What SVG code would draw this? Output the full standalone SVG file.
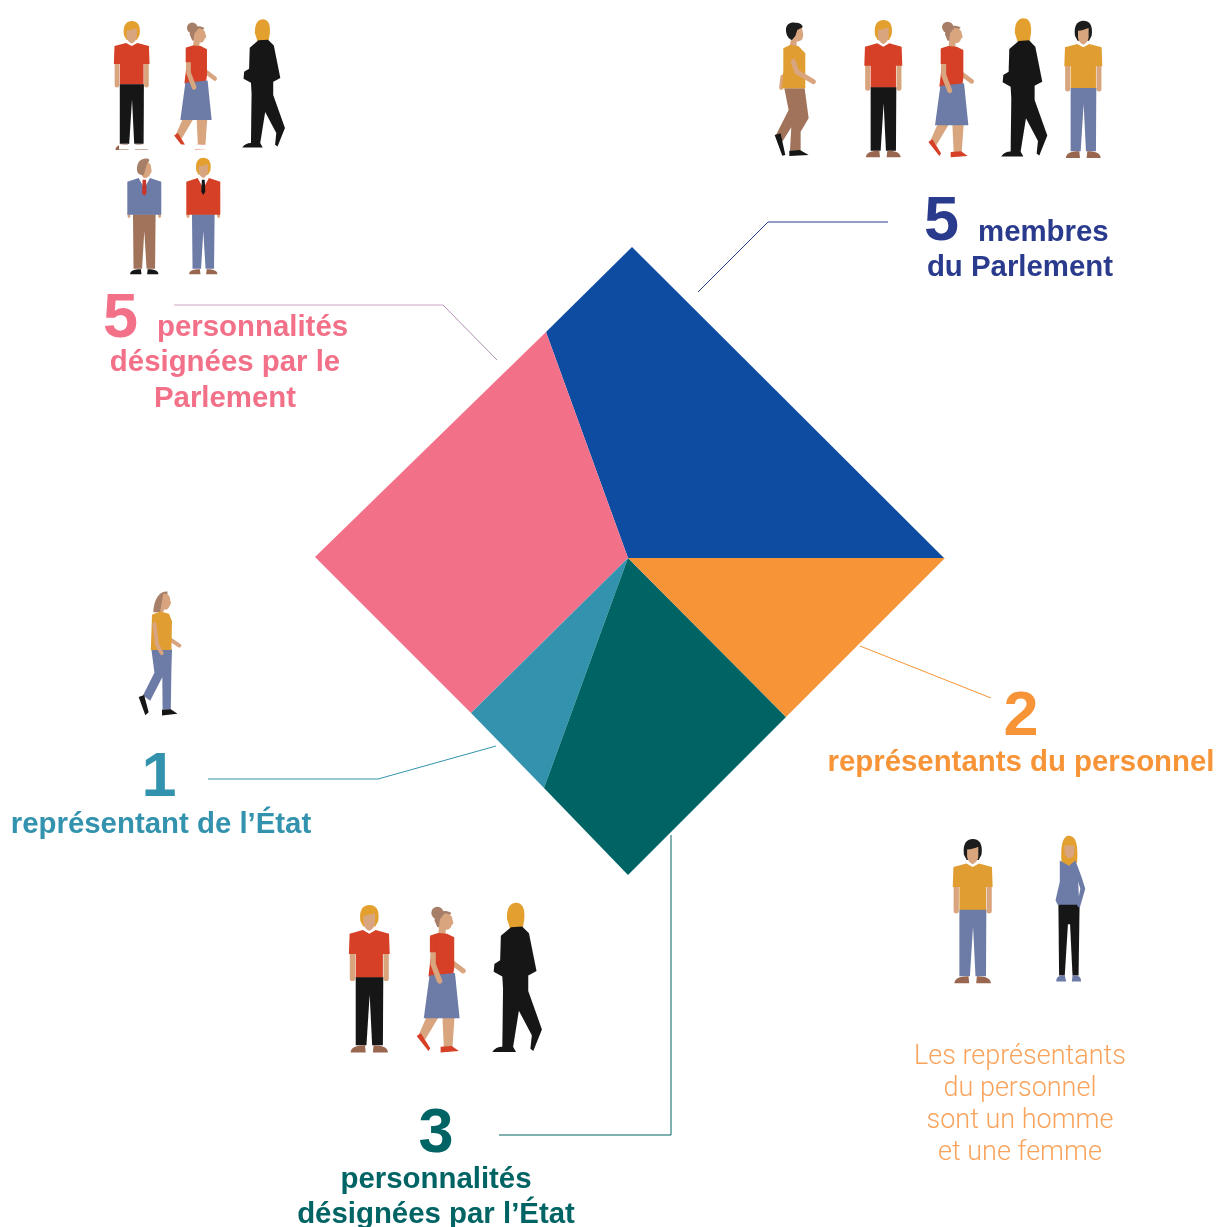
<svg xmlns="http://www.w3.org/2000/svg" width="1218" height="1227" viewBox="0 0 1218 1227">
<style>
text{font-family:"Liberation Sans",Arial,sans-serif;font-weight:700;font-size:29.4px;text-anchor:middle}
.n{font-size:63px}
.s{text-anchor:start}
.l{font-family:Roboto,"Liberation Sans",sans-serif;font-weight:300;font-size:27px;fill:#f9a35c}
.pink{fill:#f37089}.blue{fill:#2a3a8c}.or{fill:#f79437}.lt{fill:#3393ae}.dk{fill:#006465}
.c{fill:none;stroke-width:1}
.skin{fill:#d8a57f}.armskin{fill:none;stroke:#d8a57f;stroke-linecap:round;stroke-linejoin:round}
.hair{fill:var(--hair)}.top{fill:var(--top)}.leg{fill:var(--leg)}.shoe{fill:var(--shoe)}
.mr{--hair:#e3a02f;--top:#d53f27;--leg:#151515;--shoe:#99664f}
.my{--hair:#1a1a1a;--top:#e09e33;--leg:#6d7ba6;--shoe:#99664f}
.s1{--hair:#a77f68;--top:#6d7ba6;--leg:#a0735a;--shoe:#151515}
.s2{--hair:#e3a02f;--top:#d53f27;--leg:#6d7ba6;--shoe:#99664f}
.ppl{filter:url(#soft)}
</style>
<defs>
<filter id="soft" x="-5%" y="-5%" width="110%" height="110%"><feGaussianBlur stdDeviation="0.45"/></filter>
<g id="head-front">
<path class="hair" d="M-25 45C-30 10-14 0 0 0C17 0 30 12 25 45L17 60L-17 60Z"/>
<path class="skin" d="M-16 30C-5 30 8 25 16 22L16 50C15 62 6 70 0 72C-6 70-15 62-16 50Z"/>
</g>
<g id="man-front">
<use href="#head-front"/>
<path class="armskin" stroke-width="15" d="M-47 130V205M47 130V205"/>
<path class="top" d="M-55 80L-18 70L0 80L18 70L55 80L57 137L38 137L38 203L-38 203L-38 137L-57 137Z"/>
<path class="leg" d="M-38 202L39 202L38 392L8 392L1 250L-8 392L-38 392Z"/>
<path class="shoe" d="M-52 412C-52 400-40 392-12 392L-10 412ZM52 412C52 400 40 392 12 392L10 412Z"/>
</g>
<g id="man-suit">
<path class="armskin" stroke-width="10" d="M-54 195V208M54 195V208"/>
<path class="leg" d="M-40 200L40 200L38 392L8 392L0 260L-8 392L-38 392Z"/>
<path class="shoe" d="M-50 412C-50 400-38 394-12 394L-10 412ZM50 412C50 400 38 394 12 394L10 412Z"/>
<path fill="#fff" d="M-20 70L20 70L8 110L-8 110Z"/>
<path class="top" d="M-60 85L-20 72L0 108L20 72L60 85L60 202L-60 202Z"/>
</g>
<g id="woman-walk">
<circle cx="-12" cy="22" r="17" fill="#a77f68"/>
<path class="armskin" stroke-width="14" d="M28 160L60 184"/>
<path fill="#a77f68" d="M-20 44C-20 20 5 10 27 22L12 40L6 62L-12 62Z"/>
<path class="skin" d="M8 24C20 24 30 30 30 40L33 52L28 56C26 65 18 72 12 68L10 84L-10 84L-5 40Z"/>
<path class="skin" d="M-42 312L-8 312L-46 376L-64 362ZM2 312L36 312L30 398L6 398Z"/>
<path class="top" d="M-32 85L-10 78L15 80L35 90L35 175L32 195L-37 200L-30 140Z"/>
<path fill="#6d7ba6" d="M-34 197L37 190L50 316L-50 316Z"/>
<path class="armskin" stroke-width="15" d="M-24 105L-24 165L-6 212"/>
<path class="top" d="M-33 88L-14 88L-15 132L-33 132Z"/>
<path fill="#d53f27" d="M-70 366L-58 358L-32 400L-37 408ZM-3 396L28 394L48 408L-3 412Z"/>
</g>
<g id="walker-black">
<path fill="#e3a02f" d="M-25 45C-27 10-12 0 0 0C15 0 26 12 23 45L19 70L-17 70Z"/>
<path fill="#161616" d="M-14 68L17 66L36 85L57 190L42 198L34 202L34 245L72 352L48 412L40 406L44 368L8 300L-8 400L0 415L-66 415C-60 405-50 400-38 400L-36 240L-38 205L-62 192L-60 170L-44 160L-42 92Z"/>
</g>
<g id="man-walk">
<path class="armskin" stroke-width="13" d="M-32 170L-36 203"/>
<path class="skin" d="M0 28L25 18L30 45L27 58C20 65 15 65 10 65L10 82L-12 82Z"/>
<path fill="#1a1a1a" d="M-22 30C-22 12-8 6 5 8C20 8 28 14 28 22L12 30L6 48L-4 60C-14 58-22 45-22 30Z"/>
<path fill="#a0735a" d="M-27 205L34 205L46 295L22 335L22 392L-10 392L-6 322L-32 364L-52 345L-14 270Z"/>
<path fill="#151515" d="M-56 345L-38 340L-24 405L-33 407ZM-12 392L20 390L46 405L-12 408Z"/>
<path fill="#e09e33" d="M-30 85L-10 75L15 78L36 100L36 205L-34 205L-30 150Z"/>
<path class="armskin" stroke-width="15" d="M0 125L10 155L60 185"/>
</g>
<g id="woman-front">
<path fill="#e3a02f" d="M-21 75C-25 20-15 0 0 0C20 0 26 25 23 75L8 85L-10 85Z"/>
<path class="skin" d="M-13 28L15 28L15 50C10 68-8 68-12 50Z"/>
<path fill="#151515" d="M-30 190L30 190L27 395L10 395L3 250L-3 250L-12 395L-28 395Z"/>
<path fill="#6d7ba6" d="M-26 70L0 85L18 70L35 115L46 150L30 205L23 198L32 150L26 130L29 195L-32 195L-38 182L-26 130Z"/>
<path fill="#6d7ba6" d="M-36 412C-36 400-30 394-12 394L-8 412ZM34 412C34 400 30 394 10 394L8 412Z"/>
</g>
<g id="woman-walk-long">
<path fill="#a77f68" d="M-28 70C-24 20-5 0 19 2L19 20L7 30L2 70Z"/>
<path class="skin" d="M5 10C22 5 29 20 28 30L31 40L26 50C21 60 12 65 8 60L4 74L-6 74Z"/>
<path class="armskin" stroke-width="13" d="M28 160L58 180"/>
<path fill="#6d7ba6" d="M-34 192L34 192L32 260L30 392L3 392L2 285L-38 362L-62 345L-24 270Z"/>
<path fill="#151515" d="M-76 350L-58 343L-43 400L-54 410ZM1 392L30 390L52 405L1 411Z"/>
<path fill="#e09e33" d="M-32 78L-5 68L24 75L34 100L32 195L-36 195Z"/>
<path class="armskin" stroke-width="13" d="M-24 110L-16 175L0 205"/>
</g>
</defs>

<g id="connectors">
<path class="c" stroke="#cfa6c4" d="M174 305H443"/>
<path class="c" stroke="#b48fb8" d="M443 305L497 360"/>
<path class="c" stroke="#2a3a8c" d="M888 222H768L698 292"/>
<path class="c" stroke="#f79437" d="M860 646L991 698"/>
<path class="c" stroke="#3393ae" d="M208 779H378L496 746"/>
<path class="c" stroke="#006465" d="M671 835V1135H499"/>
</g>

<g id="diamond">
<polygon id="seg-blue" fill="#0d4ca0" points="546,332 632,247 944,558 628,558"/>
<polygon id="seg-pink" fill="#f37089" points="546,332 628,558 471,713 315,557"/>
<polygon id="seg-lightteal" fill="#3393ae" points="628,558 471,713 544,788"/>
<polygon id="seg-darkteal" fill="#006465" points="628,558 544,788 628,875 786,717"/>
<polygon id="seg-orange" fill="#f79437" points="628,558 945,558 786,717"/>
</g>

<g id="people-top-left" class="ppl">
<use href="#man-front" class="mr" transform="translate(131.7 21) scale(.313)"/>
<use href="#woman-walk" class="mr" transform="translate(196 21) scale(.313)"/>
<use href="#walker-black" transform="translate(262.7 19.3) scale(.309)"/>
<rect x="119" y="144.5" width="96" height="5" fill="#fff"/>
<g class="s1" transform="translate(144.3 157.7) scale(.283)">
<use href="#man-suit"/>
<path fill="#c8352a" d="M-6 78H6L8 125L0 135L-8 125Z"/>
<path class="skin" d="M-15 15C5 5 25 18 24 35L26 50L22 56C16 70 5 75-4 70L-10 60Z"/>
<path class="hair" d="M-26 40C-26 12-8 0 10 3C20 5 20 12 10 20L-2 62C-18 62-26 55-26 40Z"/>
</g>
<g class="s2" transform="translate(203.3 157.7) scale(.283)">
<use href="#man-suit"/>
<path fill="#151515" d="M-5 78H5L7 120L0 132L-7 120Z"/>
<use href="#head-front"/>
</g>
</g>

<g id="people-top-right" class="ppl">
<use href="#man-walk" transform="translate(793.3 20) scale(.3333)"/>
<use href="#man-front" class="mr" transform="translate(883.3 20) scale(.3333)"/>
<use href="#woman-walk" class="mr" transform="translate(951.7 20) scale(.3333)"/>
<use href="#walker-black" transform="translate(1023.3 18.3) scale(.3333)"/>
<use href="#man-front" class="my" transform="translate(1083.3 20.7) scale(.3333)"/>
</g>

<g id="people-bottom" class="ppl">
<use href="#man-front" class="mr" transform="translate(369.3 905) scale(.358)"/>
<use href="#woman-walk" class="mr" transform="translate(441.7 905) scale(.358)"/>
<use href="#walker-black" transform="translate(516 902.7) scale(.36)"/>
</g>

<g id="people-right" class="ppl">
<use href="#man-front" class="my" transform="translate(972.7 839) scale(.35)"/>
<use href="#woman-front" transform="translate(1069 835.7) scale(.354)"/>
</g>

<g id="person-left" class="ppl">
<use href="#woman-walk-long" transform="translate(161.7 591) scale(.303)"/>
</g>

<g id="label-pink" class="pink">
<text class="n s" x="103" y="337">5</text>
<text class="s" x="157" y="336">personnalités</text>
<text x="225" y="371">désignées par le</text>
<text x="225" y="407">Parlement</text>
</g>
<g id="label-blue" class="blue">
<text class="n s" x="924" y="240">5</text>
<text class="s" x="978" y="240.5">membres</text>
<text x="1020" y="275.5">du Parlement</text>
</g>
<g id="label-orange" class="or">
<text class="n" x="1021" y="735">2</text>
<text x="1021" y="771">représentants du personnel</text>
</g>
<g id="label-lightteal" class="lt">
<text class="n" x="159" y="796">1</text>
<text x="161" y="833">représentant de l’État</text>
</g>
<g id="label-darkteal" class="dk">
<text class="n" x="436" y="1152">3</text>
<text x="436" y="1188">personnalités</text>
<text x="436" y="1223">désignées par l’État</text>
</g>
<g id="note">
<text class="l" x="1020" y="1064">Les représentants</text>
<text class="l" x="1020" y="1096">du personnel</text>
<text class="l" x="1020" y="1128">sont un homme</text>
<text class="l" x="1020" y="1160">et une femme</text>
</g>
</svg>
